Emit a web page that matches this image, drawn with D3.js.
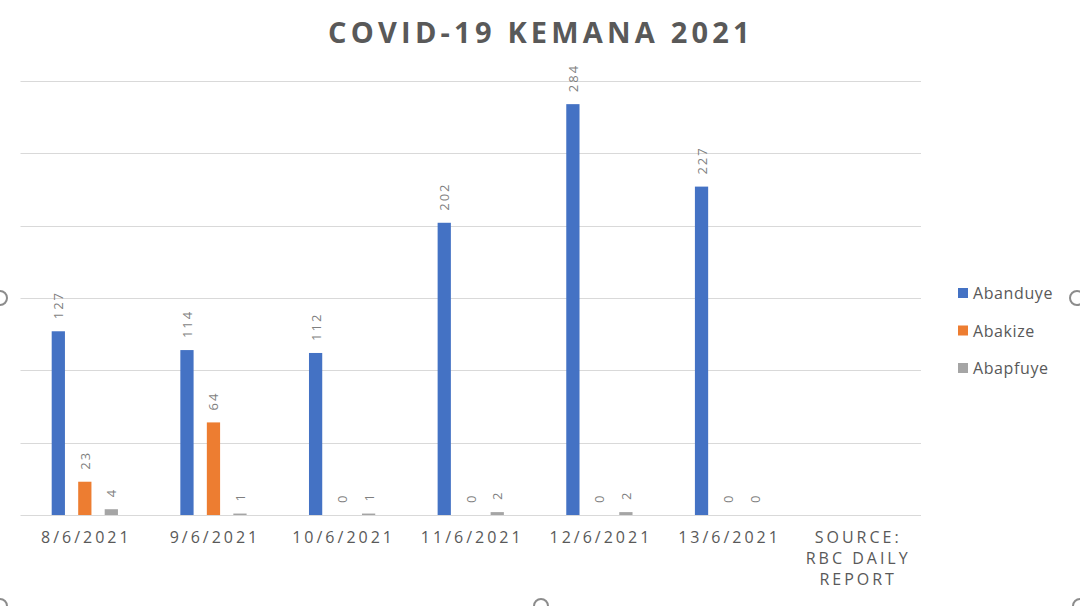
<!DOCTYPE html>
<html><head><meta charset="utf-8">
<script src="https://cdn.jsdelivr.net/npm/d3@7"></script>
<style>body{margin:0;background:#fff}svg{display:block}</style>
</head><body><svg id="c" width="1080" height="606"></svg>
<script>
const categories = ["8/6/2021","9/6/2021","10/6/2021","11/6/2021","12/6/2021","13/6/2021","SOURCE: RBC DAILY REPORT"];
const series = ["Abanduye","Abakize","Abapfuye"];
const abanduye = [127,114,112,202,284,227,null];
const abakize = [23,64,0,0,0,0,null];
const abapfuye = [4,1,1,2,2,0,null];
const yTicks = [0,50,100,150,200,250,300];
const colors = ["#4472c4","#ed7d31","#a5a5a5"];
const title = "COVID-19 KEMANA 2021";

const svg = d3.select("#c");
const W=1080,H=606;
const m={l:20.5,r:159,t:81,b:91};
const x0 = d3.scaleBand().domain(categories).range([m.l, W-m.r]);
const gw = 79.5;
const x1 = d3.scaleBand().domain(series).range([-gw/2, gw/2]).paddingInner(0.5).paddingOuter(0.25);
const y = d3.scaleLinear().domain([0,300]).range([H-m.b, m.t]);
const color = d3.scaleOrdinal().domain(series).range(colors);
const vals = [abanduye, abakize, abapfuye];

// gridlines
svg.append("g").selectAll("line").data(yTicks).join("line")
  .attr("x1",m.l).attr("x2",W-m.r)
  .attr("y1",d=>Math.round(y(d))+0.5).attr("y2",d=>Math.round(y(d))+0.5)
  .attr("stroke","#d9d9d9").attr("stroke-width",1);

// bars
const data=[];
categories.forEach((c,i)=>series.forEach((s,j)=>{ if(vals[j][i]!==null) data.push({c,s,v:vals[j][i]}); }));
svg.append("g").selectAll("rect").data(data).join("rect")
  .attr("x",d=>x0(d.c)+x0.bandwidth()/2+x1(d.s))
  .attr("width",x1.bandwidth())
  .attr("y",d=>y(d.v)).attr("height",d=>y(0)-y(d.v))
  .attr("fill",d=>color(d.s));

// data labels
svg.append("g").selectAll("text").data(data).join("text")
  .attr("transform",d=>`translate(${x0(d.c)+x0.bandwidth()/2+x1(d.s)+x1.bandwidth()/2},${y(d.v)-12}) rotate(-90)`)
  .attr("dominant-baseline","central")
  .attr("font-family","'Open Sans', sans-serif").attr("font-size",13)
  .attr("letter-spacing","2px")
  .attr("fill","#7f7f7f").text(d=>d.v);

// x axis labels
const xa = svg.append("g").attr("font-family","'Open Sans', sans-serif").attr("font-size",16)
  .attr("fill","#595959").attr("letter-spacing","3px").attr("text-anchor","middle");
categories.forEach(c=>{
  const lines = c.startsWith("SOURCE") ? ["SOURCE:","RBC DAILY","REPORT"] : [c];
  lines.forEach((l,k)=>xa.append("text").attr("x",x0(c)+x0.bandwidth()/2+1.5).attr("y",543+k*21)
    .text(l));
});

// title
svg.append("text").attr("x",541).attr("y",43).attr("text-anchor","middle")
  .attr("font-family","'Open Sans', sans-serif").attr("font-weight",700)
  .attr("font-size",29).attr("letter-spacing","4.2px").attr("fill","#595959").text(title);

// legend
const lg = svg.append("g");
series.forEach((s,i)=>{
  const yy = 293 + i*37.5;
  lg.append("rect").attr("x",958).attr("y",yy-5).attr("width",10).attr("height",10).attr("fill",color(s));
  lg.append("text").attr("x",973).attr("y",yy).attr("dominant-baseline","central")
    .attr("font-family","'Open Sans', sans-serif").attr("font-size",16).attr("letter-spacing","0.6px")
    .attr("fill","#595959").text(s);
});

// selection handles
const handles=[[0,298],[1077,298],[0,606],[541,606],[1080,606]];
svg.append("g").selectAll("circle").data(handles).join("circle")
  .attr("cx",d=>d[0]).attr("cy",d=>d[1]).attr("r",7)
  .attr("fill","#fff").attr("stroke","#8c8c8c").attr("stroke-width",2);
</script></body></html>
